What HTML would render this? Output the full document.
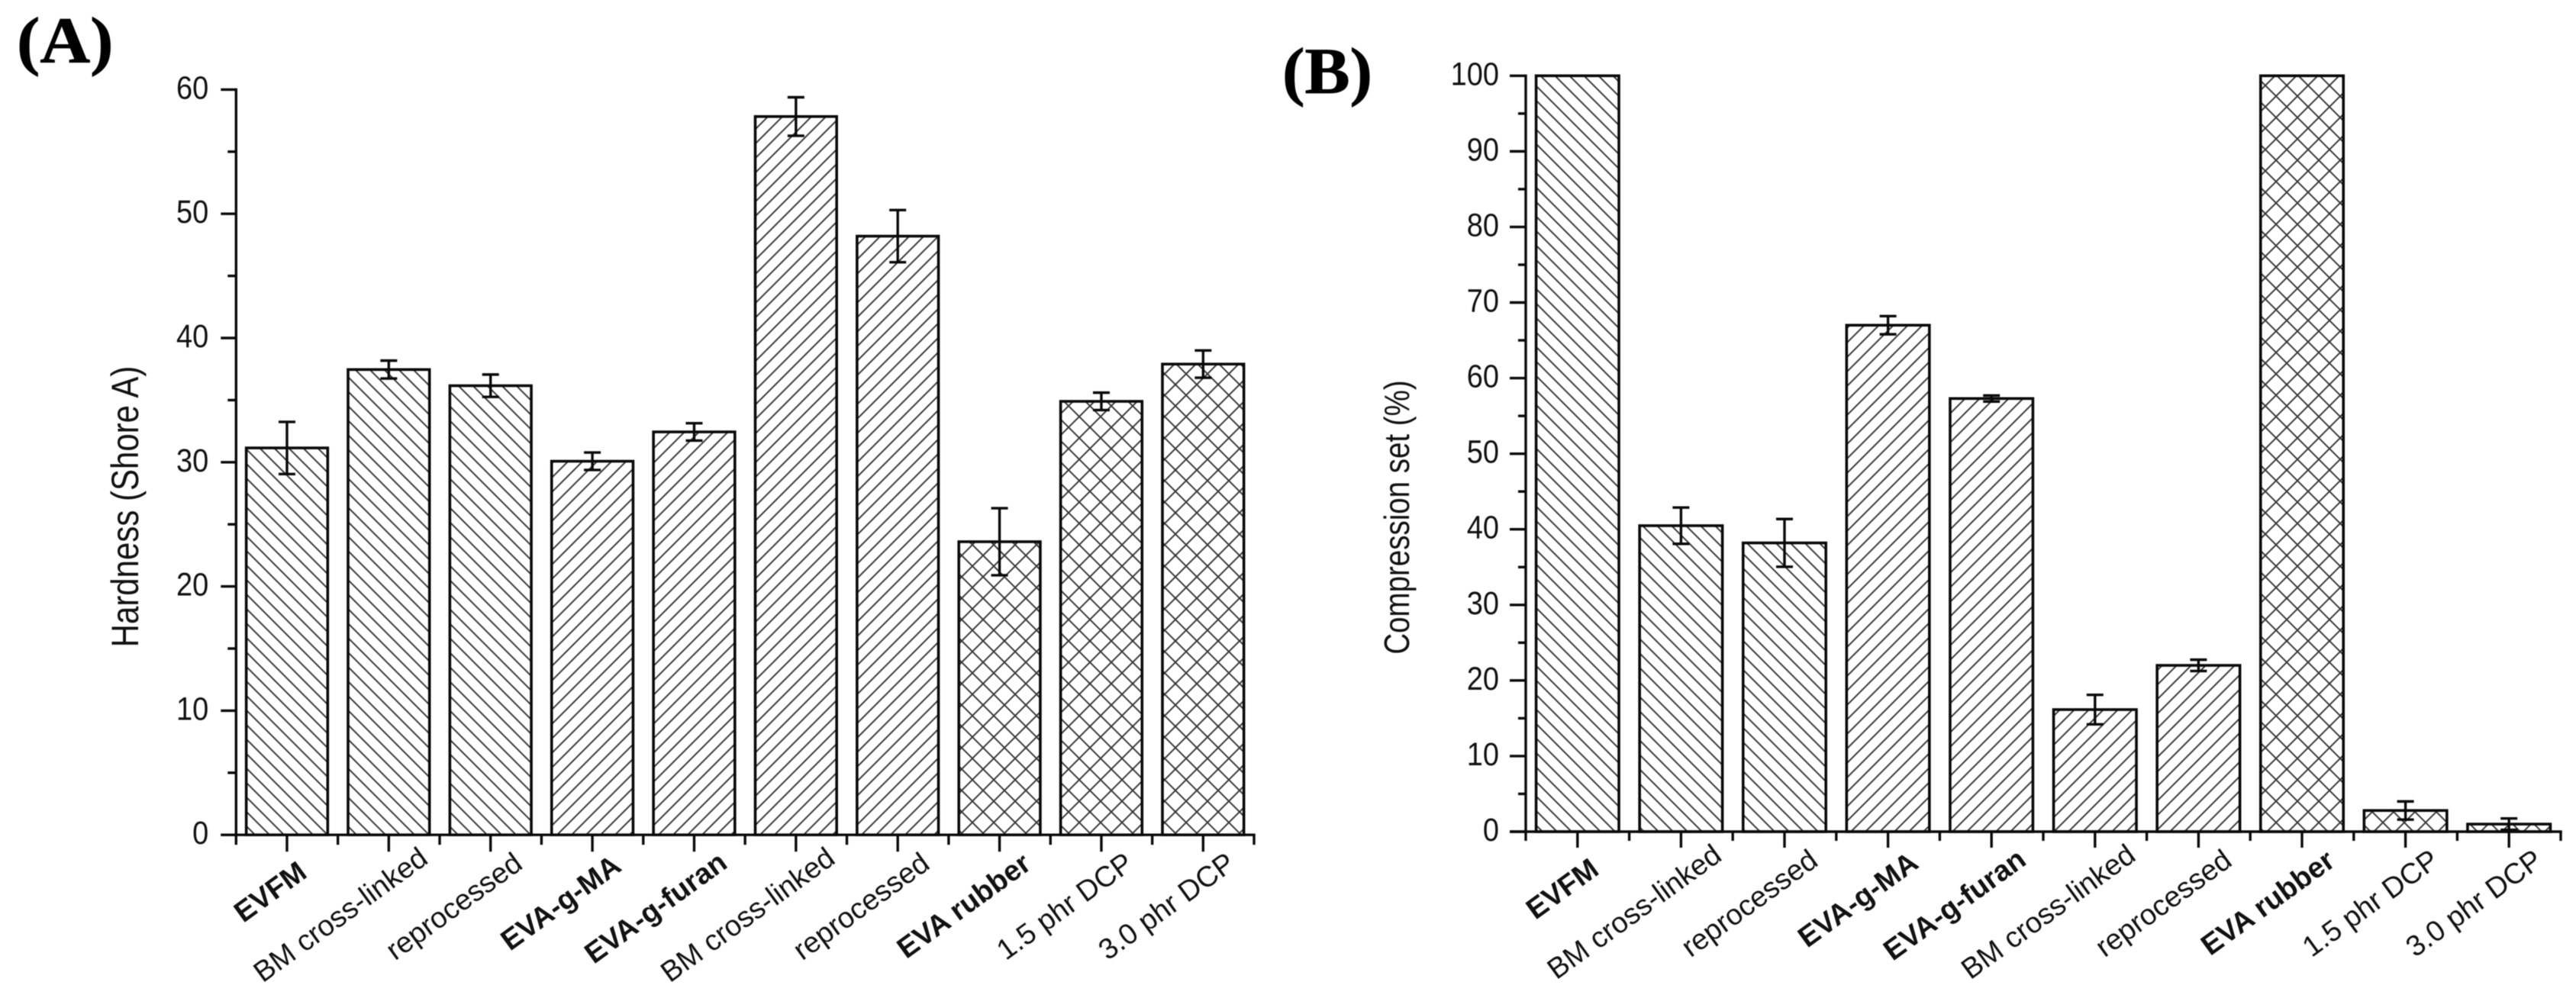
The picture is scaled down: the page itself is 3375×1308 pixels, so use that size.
<!DOCTYPE html>
<html lang="en">
<head>
<meta charset="utf-8">
<title>Hardness and compression set bar charts</title>
<style>
html,body{margin:0;padding:0;background:#fff;}
svg{display:block;filter:blur(0.6px);}
text{font-family:"Liberation Sans",Arial,sans-serif;fill:#111;}
.panel-tag{font-family:"Liberation Serif","Times New Roman",serif;font-weight:bold;fill:#000;stroke:#000;stroke-width:0.8px;font-size:86px;}
</style>
</head>
<body>
<svg id="figure" width="3375" height="1308" viewBox="0 0 3375 1308" xmlns="http://www.w3.org/2000/svg">
<defs>
<pattern id="hatch-back" patternUnits="userSpaceOnUse" width="19" height="19"><path d="M-2,-2L21,21M-2,17L2,21M17,-2L21,2" stroke="#3a3a3a" stroke-width="2" fill="none"/></pattern>
<pattern id="hatch-forward" patternUnits="userSpaceOnUse" width="19" height="19"><path d="M-2,21L21,-2M-2,2L2,-2M17,21L21,17" stroke="#3a3a3a" stroke-width="2" fill="none"/></pattern>
<pattern id="hatch-cross" patternUnits="userSpaceOnUse" width="28" height="28"><path d="M-2,-2L30,30M-2,30L30,-2" stroke="#3a3a3a" stroke-width="2" fill="none"/></pattern>
</defs>
<rect width="3375" height="1308" fill="#fff"/>
<text class="panel-tag" transform="translate(22 82) scale(1.06 1)">(A)</text>
<text class="panel-tag" transform="translate(1680 122) scale(1.03 1)">(B)</text>
<g id="chart-a"></g>
<g id="chart-b"></g>
</svg>
<script>
const categories = ['EVFM','BM cross-linked','reprocessed','EVA-g-MA','EVA-g-furan','BM cross-linked','reprocessed','EVA rubber','1.5 phr DCP','3.0 phr DCP'];
const boldCategories = ['EVFM','EVA-g-MA','EVA-g-furan','EVA rubber'];
const hatchByCategory = ['back','back','back','forward','forward','forward','forward','cross','cross','cross'];
const hardnessValues = [31.15,37.46,36.16,30.08,32.44,57.83,48.2,23.6,34.9,37.9];
const hardnessErrors = [2.1,0.72,0.9,0.7,0.7,1.55,2.1,2.7,0.7,1.1];
const hardnessTicks = [0,10,20,30,40,50,60];
const compressionValues = [100,40.48,38.2,67,57.3,16.15,22,100,2.8,1];
const compressionErrors = [0,2.4,3.16,1.2,0.4,1.95,0.75,0,1.2,0.75];
const compressionTicks = [0,10,20,30,40,50,60,70,80,90,100];

const NS = 'http://www.w3.org/2000/svg';
function make(parent, tag, attrs, text) {
  const el = document.createElementNS(NS, tag);
  for (const k in attrs) el.setAttribute(k, attrs[k]);
  if (text !== undefined) el.textContent = text;
  parent.appendChild(el);
  return el;
}
function drawChart(cfg) {
  const root = document.getElementById(cfg.id);
  const n = categories.length;
  const step = (cfg.xEnd - cfg.xStart) / n;
  const xCenter = i => cfg.xStart + step * (i + 0.5);
  const maxTick = cfg.ticks[cfg.ticks.length - 1];
  const yScale = v => cfg.y0 + (cfg.yMax - cfg.y0) * v / maxTick;
  const barW = step * 0.8;

  cfg.values.forEach((v, i) => {
    const bar = make(root, 'rect', {
      x: xCenter(i) - barW / 2, y: yScale(v), width: barW, height: cfg.y0 - yScale(v),
      fill: 'url(#hatch-' + hatchByCategory[i] + ')', stroke: '#0a0a0a', 'stroke-width': 3.6
    });
    
    
  });

  cfg.errors.forEach((e, i) => {
    if (!e) return;
    const v = cfg.values[i];
    const g = make(root, 'g', {stroke: '#0a0a0a', 'stroke-width': 3.4, fill: 'none'});
    
    
    const cx = xCenter(i);
    make(g, 'line', {x1: cx, x2: cx, y1: yScale(v + e), y2: yScale(v - e)});
    make(g, 'line', {x1: cx - 11, x2: cx + 11, y1: yScale(v + e), y2: yScale(v + e)});
    make(g, 'line', {x1: cx - 11, x2: cx + 11, y1: yScale(v - e), y2: yScale(v - e)});
  });

  const yAxis = make(root, 'g', {stroke: '#0a0a0a', 'stroke-width': 3.4});
  
  
  make(yAxis, 'line', {x1: cfg.xStart, x2: cfg.xStart, y1: yScale(maxTick) - 1.7, y2: cfg.y0});
  cfg.ticks.forEach((t, i) => {
    make(yAxis, 'line', {x1: cfg.xStart - cfg.major, x2: cfg.xStart, y1: yScale(t), y2: yScale(t)});
    if (i < cfg.ticks.length - 1) {
      const mid = yScale((t + cfg.ticks[i + 1]) / 2);
      make(yAxis, 'line', {x1: cfg.xStart - cfg.minor, x2: cfg.xStart, y1: mid, y2: mid});
    }
    const tx = cfg.xStart - cfg.labelGap, ty = yScale(t) + cfg.tickBase;
    const lab = make(root, 'text', {'text-anchor': 'end', 'font-size': cfg.tickFont, stroke: 'none', transform: 'translate(' + tx + ' ' + ty + ') scale(1 1.13)'}, String(t));
    
    
  });

  const xAxis = make(root, 'g', {stroke: '#0a0a0a', 'stroke-width': 3.4});
  
  
  make(xAxis, 'line', {x1: cfg.xStart - cfg.major, x2: cfg.xEnd + 1.7, y1: cfg.y0, y2: cfg.y0});
  for (let i = 0; i <= n; i++) {
    const x = cfg.xStart + step * i;
    make(xAxis, 'line', {x1: x, x2: x, y1: cfg.y0, y2: cfg.y0 + cfg.xMinor});
    if (i < n) make(xAxis, 'line', {x1: xCenter(i), x2: xCenter(i), y1: cfg.y0, y2: cfg.y0 + cfg.xMajor});
  }

  categories.forEach((c, i) => {
    const ax = xCenter(i) + cfg.labelDx, ay = cfg.labelY;
    const lab = make(root, 'text', {y: ay, 'font-size': cfg.catFont, 'font-weight': boldCategories.includes(c) ? 'bold' : 'normal', transform: 'rotate(-36 ' + ax + ' ' + ay + ')'}, c);
    
    
    lab.setAttribute('x', ax - 0.81 * lab.getComputedTextLength());
  });

  const t = make(root, 'text', {'text-anchor': 'middle', 'font-size': cfg.titleFont, transform: 'translate(' + cfg.titleX + ' ' + cfg.titleY + ') rotate(-90) scale(1 1.2)'}, cfg.title);
  
  
}

drawChart({id:'chart-a', prefix:'hardness', values:hardnessValues, errors:hardnessErrors, ticks:hardnessTicks,
  title:'Hardness (Shore A)', xStart:309.3, xEnd:1643, y0:1094.2, yMax:117.4, major:20, minor:11, labelGap:36, tickBase:12, tickFont:38,
  xMinor:13, xMajor:22, labelDx:12, labelY:1160, catFont:38, titleFont:42, titleX:181, titleY:664});
drawChart({id:'chart-b', prefix:'compression', values:compressionValues, errors:compressionErrors, ticks:compressionTicks,
  title:'Compression set (%)', xStart:1999, xEnd:3355, y0:1090, yMax:99.3, major:21, minor:10, labelGap:35, tickBase:12, tickFont:38,
  xMinor:12, xMajor:21, labelDx:14, labelY:1156, catFont:38, titleFont:38.5, titleX:1846, titleY:678});
</script>
</body>
</html>
